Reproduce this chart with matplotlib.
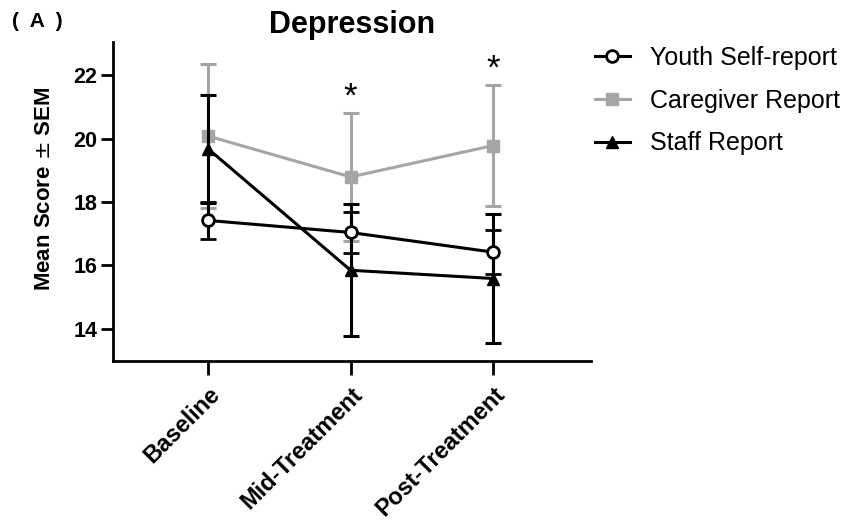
import matplotlib.pyplot as plt
from matplotlib.lines import Line2D

plt.rcParams['font.family'] = ['Liberation Sans', 'DejaVu Sans']

timepoints = ['Baseline', 'Mid-Treatment', 'Post-Treatment']
youth_mean = [17.42, 17.04, 16.42]
youth_sem = [0.57, 0.64, 0.69]
caregiver_mean = [20.08, 18.79, 19.78]
caregiver_sem = [2.26, 2.02, 1.91]
staff_mean = [19.68, 15.85, 15.59]
staff_sem = [1.70, 2.08, 2.02]
star_points = [1, 2]

x = list(range(len(timepoints)))
gray = '#a5a5a5'

fig = plt.figure(figsize=(8.51, 5.20), dpi=100)
ax = fig.add_axes([0.1328, 0.3063, 0.5617, 0.6135])

ax.errorbar(x, caregiver_mean, yerr=caregiver_sem, color=gray, marker='s', ms=8.5,
            lw=2.2, elinewidth=2.2, capsize=6, capthick=2.2, zorder=2)
ax.errorbar(x, staff_mean, yerr=staff_sem, color='black', marker='^', ms=8.5,
            lw=2.2, elinewidth=2.2, capsize=6, capthick=2.2, zorder=3)
ax.errorbar(x, youth_mean, yerr=youth_sem, color='black', marker='o', ms=8.5, mfc='white',
            mew=2, lw=2.2, elinewidth=2.2, capsize=6, capthick=2.2, zorder=4)

for i in star_points:
    ax.text(x[i], caregiver_mean[i] + caregiver_sem[i] + 0.5, '*', ha='center', va='center',
            fontsize=25)

ax.set_xlim(-0.665, 2.685)
ax.set_ylim(13, 23.05)
ax.set_yticks([14, 16, 18, 20, 22])
ax.set_xticks(x)
ax.set_xticklabels(timepoints, rotation=45, ha='right', rotation_mode='anchor')
for lab in ax.get_yticklabels():
    lab.set_fontweight('bold')
    lab.set_fontsize(15.5)
for lab in ax.get_xticklabels():
    lab.set_fontweight('bold')
    lab.set_fontsize(17)

for side in ['top', 'right']:
    ax.spines[side].set_visible(False)
for side in ['left', 'bottom']:
    ax.spines[side].set_linewidth(2)
ax.tick_params(axis='y', width=2, length=9, pad=2)
ax.tick_params(axis='x', width=2, length=10, pad=6)

ax.set_ylabel('Mean Score $\\pm$ SEM', fontsize=16, fontweight='bold')
ax.yaxis.set_label_coords(-0.121, 0.54)
ax.set_title('Depression', fontsize=22, fontweight='bold', pad=6)
fig.text(0.014, 0.948, '(  A  )', fontsize=15, fontweight='bold')

handles = [
    Line2D([], [], color='black', marker='o', ms=8.5, mfc='white', mew=2, lw=2.2),
    Line2D([], [], color=gray, marker='s', ms=8.5, lw=2.2),
    Line2D([], [], color='black', marker='^', ms=8.5, lw=2.2),
]
labels = ['Youth Self-report', 'Caregiver Report', 'Staff Report']
fig.legend(handles, labels, loc='upper left', bbox_to_anchor=(0.699, 0.912), frameon=False,
           fontsize=18, labelspacing=0.75, handlelength=1.4, handletextpad=0.8,
           borderaxespad=0, borderpad=0)

plt.savefig('out.png', dpi=100)
